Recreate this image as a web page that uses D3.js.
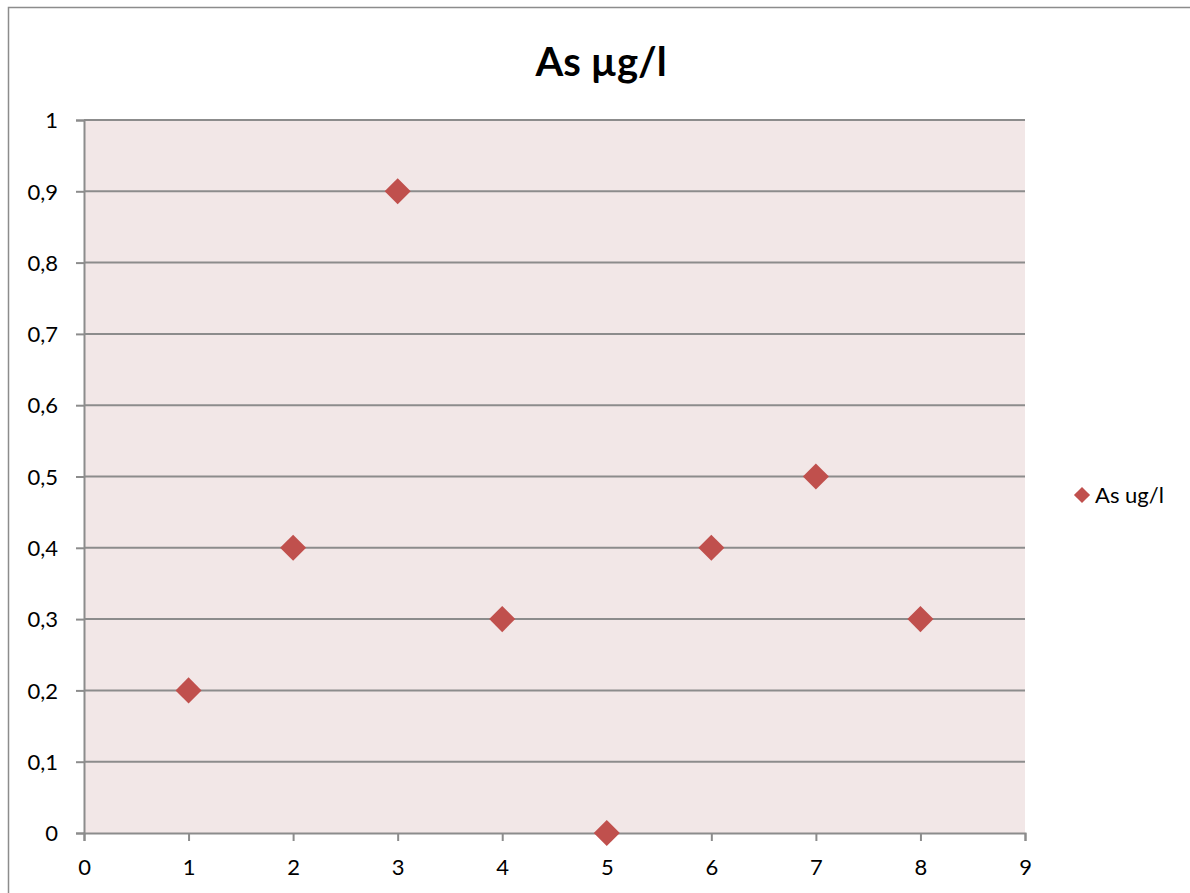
<!DOCTYPE html>
<html>
<head>
<meta charset="utf-8">
<script src="https://cdn.jsdelivr.net/npm/d3@7"></script>
<style>
  body { margin: 0; background: #fff; }
  text { font-family: Lato, "Open Sans", sans-serif; }
</style>
</head>
<body>
<div id="chart"></div>
<script>
// Data
const sampleNo = [1, 2, 3, 4, 5, 6, 7, 8];
const asValues = [0.2, 0.4, 0.9, 0.3, 0, 0.4, 0.5, 0.3];
const xTicks = [0, 1, 2, 3, 4, 5, 6, 7, 8, 9];
const yTicks = [0, 0.1, 0.2, 0.3, 0.4, 0.5, 0.6, 0.7, 0.8, 0.9, 1];
const chartTitle = "As µg/l";
const seriesName = "As ug/l";

const width = 1190;
const height = 893;
const plot = { left: 84, top: 120, right: 1025, bottom: 833 };
const markerColor = "#C0504D";
const gridColor = "#8C8C8C";

// comma as decimal separator
const locale = d3.formatLocale({ decimal: ",", thousands: " ", grouping: [3], currency: ["", ""] });
const fmt = locale.format("~g");

const svg = d3.select("#chart")
    .append("svg")
    .attr("width", width)
    .attr("height", height);

// Outer chart border
svg.append("rect")
    .attr("x", 8.5)
    .attr("y", 7.5)
    .attr("width", 1300)
    .attr("height", 1000)
    .attr("fill", "#fff")
    .attr("stroke", "#8C8C8C")
    .attr("stroke-width", 1.5);

const x = d3.scaleLinear().domain([0, 9]).range([plot.left, plot.right]);
const y = d3.scaleLinear().domain([0, 1]).range([plot.bottom, plot.top]);

// Plot background
svg.append("rect")
    .attr("x", plot.left)
    .attr("y", plot.top)
    .attr("width", plot.right - plot.left)
    .attr("height", plot.bottom - plot.top)
    .attr("fill", "#F2E7E7");

// Horizontal gridlines
svg.append("g")
    .selectAll("line")
    .data(yTicks.filter(d => d > 0))
    .enter().append("line")
    .attr("x1", plot.left)
    .attr("x2", plot.right)
    .attr("y1", d => y(d))
    .attr("y2", d => y(d))
    .attr("stroke", gridColor)
    .attr("stroke-width", 2);

// Y axis
const yAxis = svg.append("g")
    .attr("transform", `translate(${plot.left},0)`)
    .call(d3.axisLeft(y).tickValues(yTicks).tickFormat(fmt).tickSize(8).tickPadding(18));

// X axis
const xAxis = svg.append("g")
    .attr("transform", `translate(0,${plot.bottom})`)
    .call(d3.axisBottom(x).tickValues(xTicks).tickFormat(fmt).tickSize(8).tickPadding(18));

[yAxis, xAxis].forEach(ax => {
    ax.select(".domain").attr("stroke", gridColor).attr("stroke-width", 2);
    ax.selectAll(".tick line").attr("stroke", gridColor).attr("stroke-width", 2);
    ax.selectAll("text")
        .attr("fill", "#000")
        .style("font-size", "22px")
        .style("font-family", "Lato, 'Open Sans', sans-serif");
});
yAxis.selectAll("text").attr("dy", "0.35em");

// Markers
const diamond = d3.symbol().type(d3.symbolSquare).size(340);
svg.append("g")
    .selectAll("path")
    .data(sampleNo.map((d, i) => ({ x: d, y: asValues[i] })))
    .enter().append("path")
    .attr("d", diamond)
    .attr("transform", d => `translate(${x(d.x)},${y(d.y)}) rotate(45)`)
    .attr("fill", markerColor);

// Title
svg.append("text")
    .attr("x", 601)
    .attr("y", 76)
    .attr("text-anchor", "middle")
    .style("font-size", "40px")
    .style("font-weight", "bold")
    .text(chartTitle);

// Legend
const legend = svg.append("g").attr("transform", "translate(1082,495)");
legend.append("path")
    .attr("d", d3.symbol().type(d3.symbolSquare).size(130))
    .attr("transform", "rotate(45)")
    .attr("fill", markerColor);
legend.append("text")
    .attr("x", 13)
    .attr("dy", "0.35em")
    .style("font-size", "22px")
    .text(seriesName);
</script>
</body>
</html>
